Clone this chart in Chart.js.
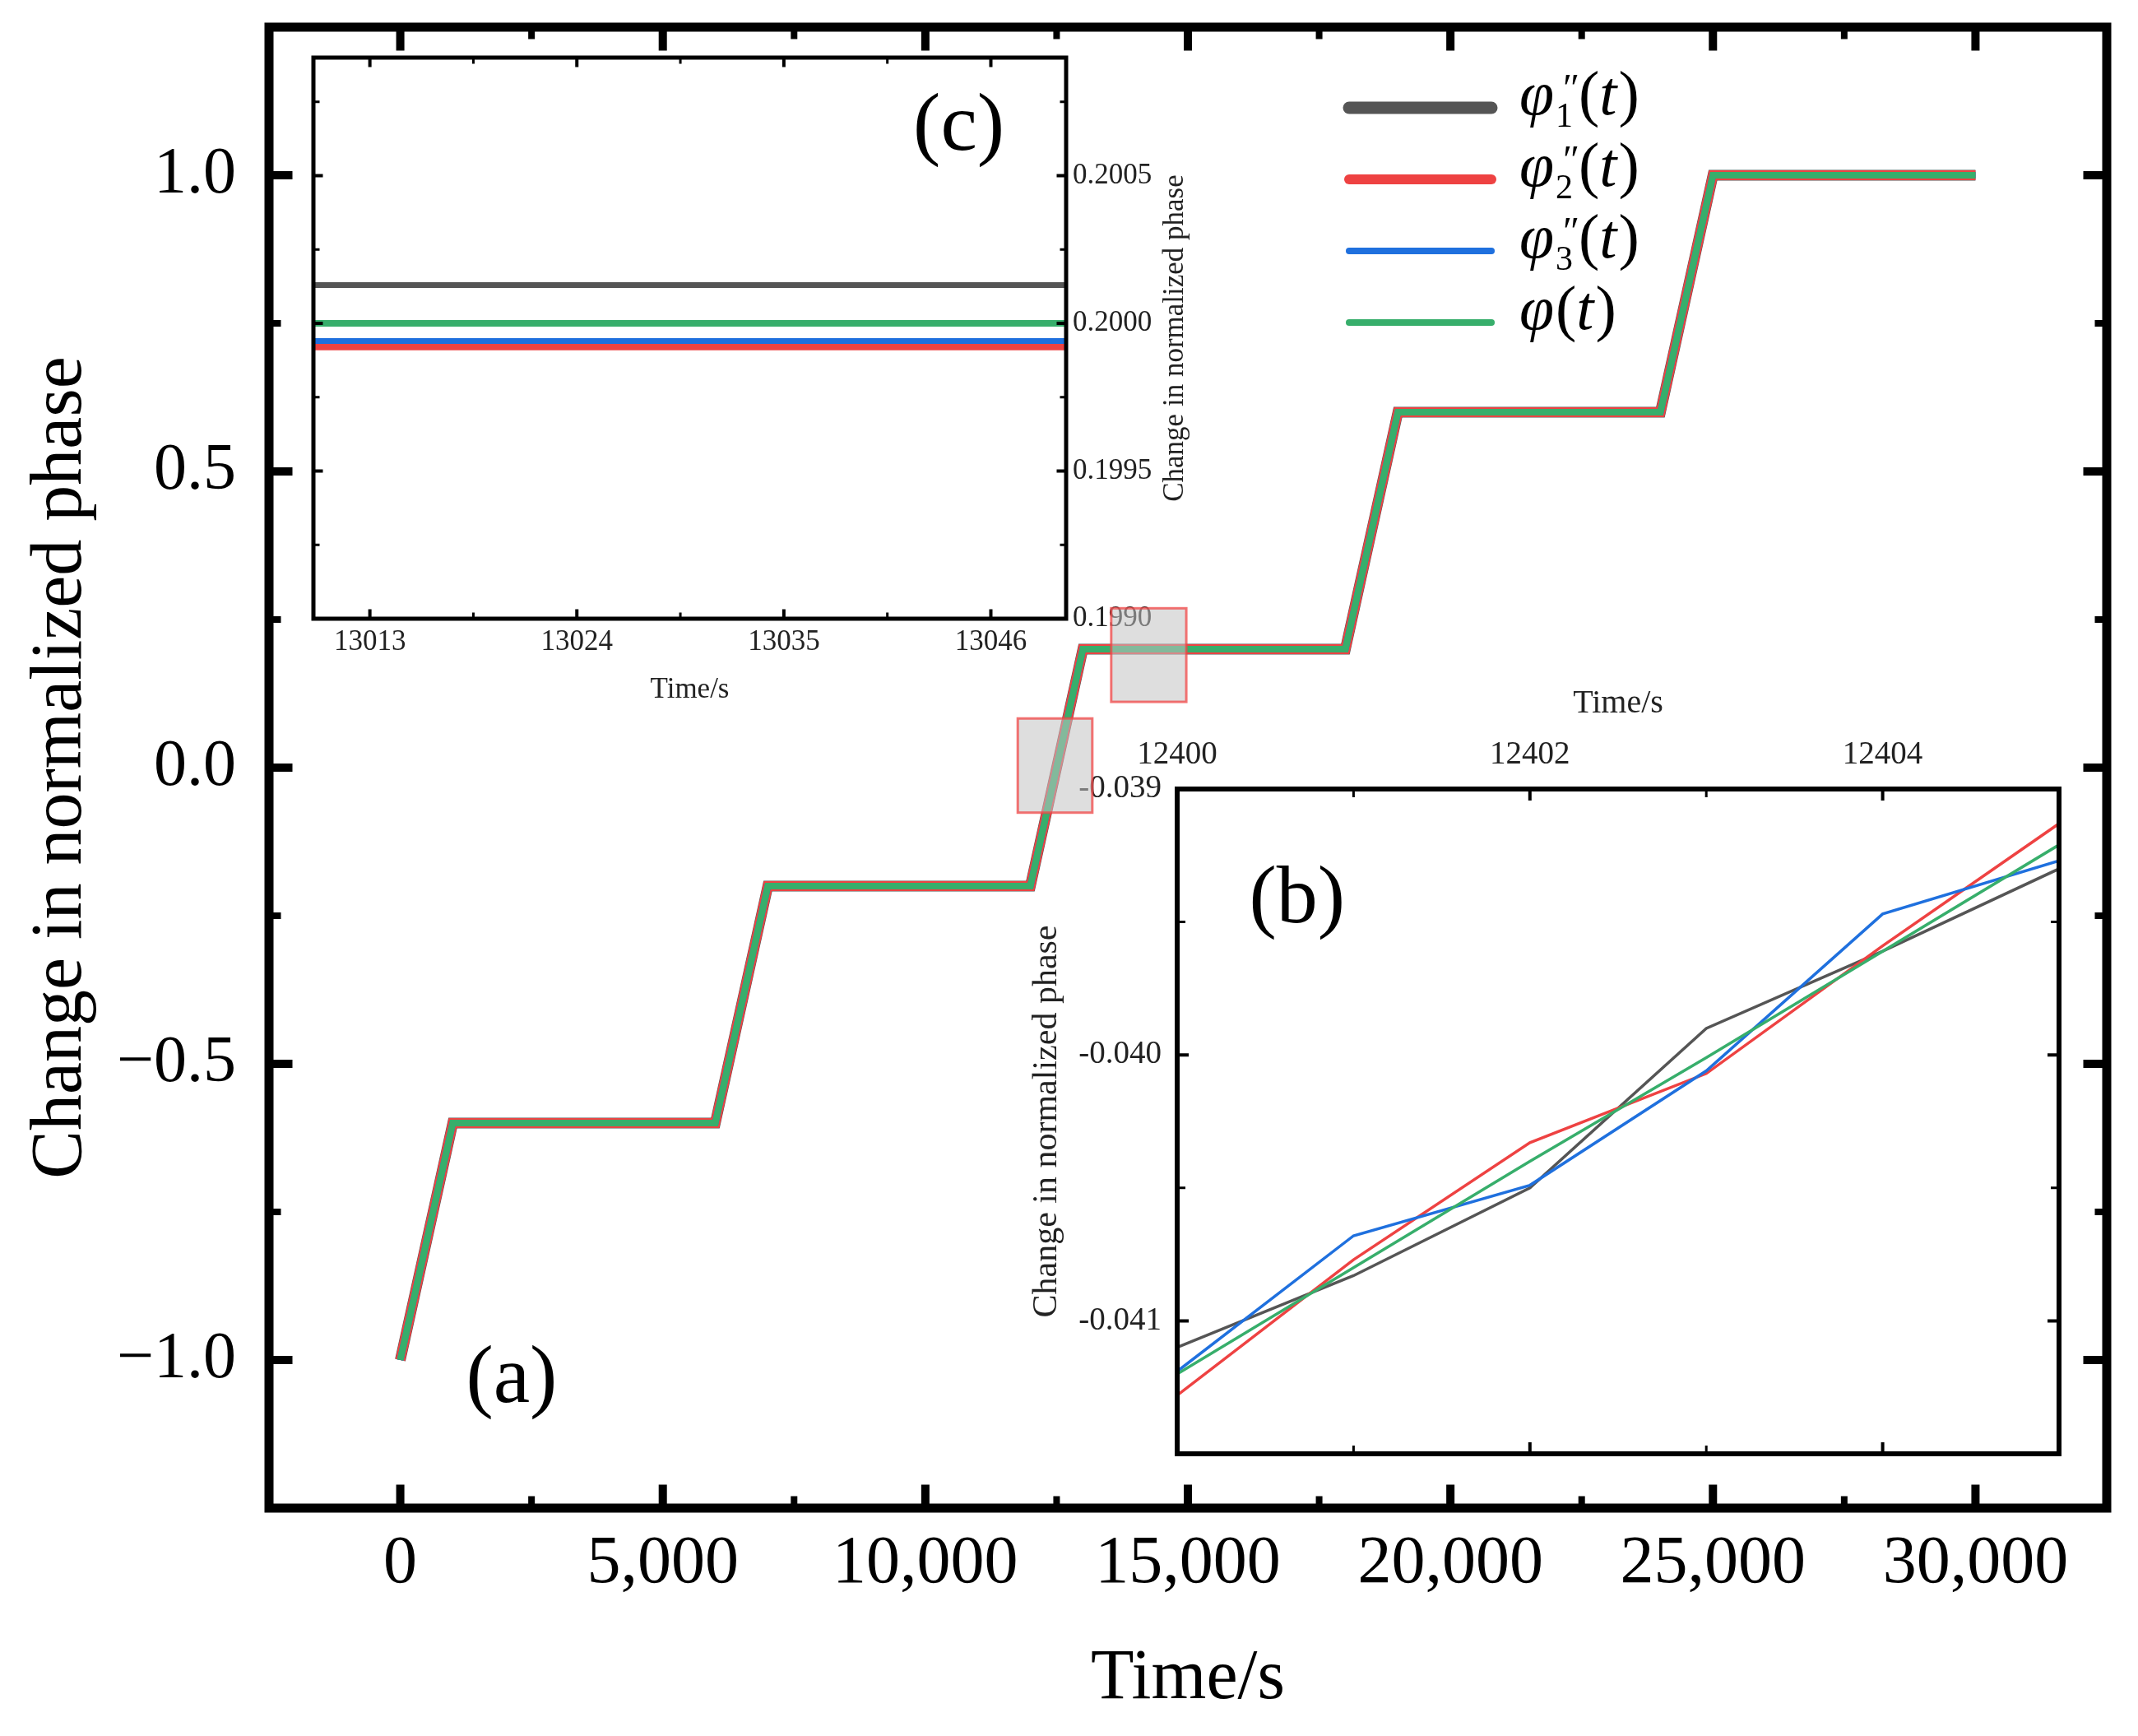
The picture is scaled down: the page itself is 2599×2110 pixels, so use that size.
<!DOCTYPE html>
<html>
<head>
<meta charset="utf-8">
<script src="https://cdn.jsdelivr.net/npm/chart.js@4.4.1/dist/chart.umd.min.js"></script>
<style>
html, body { margin: 0; padding: 0; background: #fff; }
#wrap { position: relative; width: 2599px; height: 2110px; overflow: hidden; }
canvas { position: absolute; }
#mainChart { left: 0; top: 0; z-index: 3; }
#insetC { left: 300px; top: 40px; z-index: 1; }
#insetB { left: 1240px; top: 800px; z-index: 1; }
</style>
</head>
<body>
<div id="wrap">
  <canvas id="insetC" width="1200" height="860"></canvas>
  <canvas id="insetB" width="1300" height="1000"></canvas>
  <canvas id="mainChart" width="2599" height="2110"></canvas>
</div>
<script>
// ---------- data: main panel (a) ----------
const mainTime = [0, 1000, 6000, 7000, 12000, 13000, 18000, 19000, 24000, 25000, 30000];
const mainPhi1 = [-1.0, -0.6, -0.6, -0.2, -0.2, 0.2, 0.2, 0.6, 0.6, 1.0, 1.0];
const mainPhi2 = [-1.0, -0.6, -0.6, -0.2, -0.2, 0.2, 0.2, 0.6, 0.6, 1.0, 1.0];
const mainPhi3 = [-1.0, -0.6, -0.6, -0.2, -0.2, 0.2, 0.2, 0.6, 0.6, 1.0, 1.0];
const mainPhi  = [-1.0, -0.6, -0.6, -0.2, -0.2, 0.2, 0.2, 0.6, 0.6, 1.0, 1.0];
const mainXMajor = [0, 5000, 10000, 15000, 20000, 25000, 30000];
const mainXMinor = [2500, 7500, 12500, 17500, 22500, 27500];
const mainYMajor = [-1.0, -0.5, 0.0, 0.5, 1.0];
const mainYMinor = [-0.75, -0.25, 0.25, 0.75];

// zoom windows marked on panel (a)
const zoomWinT0 = [11760, 13540];
const zoomWinT1 = [13180, 14970];
const zoomWinP0 = [-0.076, 0.111];
const zoomWinP1 = [0.083, 0.269];

// ---------- data: inset (b) ----------
const bTime = [12400, 12401, 12402, 12403, 12404, 12405];
const bPhi1 = [-0.04110, -0.04083, -0.04050, -0.03990, -0.03961, -0.03930];
const bPhi2 = [-0.04128, -0.04077, -0.04033, -0.04007, -0.03959, -0.03913];
const bPhi3 = [-0.04119, -0.04068, -0.04049, -0.04006, -0.03947, -0.03927];
const bPhi  = [-0.04120, -0.04080, -0.04040, -0.04001, -0.03961, -0.03921];
const bXMajor = [12400, 12402, 12404];
const bXMinor = [12401, 12403];
const bYMajor = [-0.041, -0.040, -0.039];
const bYMinor = [-0.0405, -0.0395];

// ---------- data: inset (c) ----------
const cTime = [13010, 13050];
const cPhi1 = [0.20013, 0.20013];
const cPhi2 = [0.19992, 0.19992];
const cPhi3 = [0.19994, 0.19994];
const cPhi  = [0.20000, 0.20000];
const cXMajor = [13013, 13024, 13035, 13046];
const cXMinor = [13018.5, 13029.5, 13040.5];
const cYMajor = [0.1990, 0.1995, 0.2000, 0.2005];
const cYMinor = [0.19925, 0.19975, 0.20025, 0.20075];

const seriesLabels = ['φ1″(t)', 'φ2″(t)', 'φ3″(t)', 'φ(t)'];
const legendSubs = ['1', '2', '3', ''];

// ---------- styling ----------
const FONT = "'Liberation Serif', 'Times New Roman', serif";
const COLORS = ['#555555', '#ee4242', '#1f70de', '#37ae6b'];
const LEGEND_WIDTHS = [15, 12, 8, 8];

// ---------- helpers ----------
function isIn(list, v) { return list.some(m => Math.abs(m - v) < 1e-9); }
function tickList(major, minor) {
  return major.concat(minor).sort((a, b) => a - b).map(v => ({ value: v }));
}
function pts(xs, ys) { return xs.map((x, i) => ({ x: x, y: ys[i] })); }
function lineSets(xs, ysList, widths) {
  return ysList.map((ys, i) => ({
    label: seriesLabels[i], data: pts(xs, ys),
    borderColor: COLORS[i], backgroundColor: COLORS[i], borderWidth: widths[i],
    order: 4 - i, pointRadius: 0, fill: false, tension: 0, borderJoinStyle: 'miter'
  }));
}
// keep the plot box where it is: no extra room for half-labels at the ends
function fixSize(prop, size) {
  return s => {
    s[prop] = size;
    s.paddingTop = 0; s.paddingBottom = 0; s.paddingLeft = 0; s.paddingRight = 0;
  };
}

// inward ticks on all four sides + box frame
function framePlugin(o) {
  return {
    id: 'frame',
    afterDraw(chart) {
      const ctx = chart.ctx, a = chart.chartArea;
      const xs = chart.scales.x, ys = chart.scales.y;
      const h = o.frameW / 2;
      ctx.save();
      ctx.strokeStyle = '#000';
      xs.ticks.forEach(t => {
        const p = xs.getPixelForValue(t.value);
        const major = isIn(o.xMajor, t.value);
        const len = h + (major ? o.majorLen : o.minorLen);
        ctx.lineWidth = major ? o.majorW : o.minorW;
        ctx.beginPath();
        ctx.moveTo(p, a.bottom); ctx.lineTo(p, a.bottom - len);
        ctx.moveTo(p, a.top); ctx.lineTo(p, a.top + len);
        ctx.stroke();
      });
      ys.ticks.forEach(t => {
        const p = ys.getPixelForValue(t.value);
        const major = isIn(o.yMajor, t.value);
        const len = h + (major ? o.majorLen : o.minorLen);
        ctx.lineWidth = major ? o.majorW : o.minorW;
        ctx.beginPath();
        ctx.moveTo(a.left, p); ctx.lineTo(a.left + len, p);
        ctx.moveTo(a.right, p); ctx.lineTo(a.right - len, p);
        ctx.stroke();
      });
      ctx.lineWidth = o.frameW;
      ctx.strokeRect(a.left, a.top, a.right - a.left, a.bottom - a.top);
      ctx.restore();
    }
  };
}

function panelLabel(text, xv, yv, size) {
  return {
    id: 'panelLabel',
    afterDraw(chart) {
      const ctx = chart.ctx;
      ctx.save();
      ctx.font = size + 'px ' + FONT;
      ctx.fillStyle = '#000';
      ctx.textAlign = 'center';
      ctx.textBaseline = 'middle';
      ctx.fillText(text, chart.scales.x.getPixelForValue(xv), chart.scales.y.getPixelForValue(yv));
      ctx.restore();
    }
  };
}

const zoomBoxPlugin = {
  id: 'zoomBoxes',
  afterDraw(chart) {
    const ctx = chart.ctx, xs = chart.scales.x, ys = chart.scales.y;
    ctx.save();
    zoomWinT0.forEach((t0, i) => {
      const xa = xs.getPixelForValue(t0), xb = xs.getPixelForValue(zoomWinT1[i]);
      const ya = ys.getPixelForValue(zoomWinP1[i]), yb = ys.getPixelForValue(zoomWinP0[i]);
      ctx.fillStyle = 'rgba(195,195,195,0.55)';
      ctx.fillRect(xa, ya, xb - xa, yb - ya);
      ctx.strokeStyle = 'rgba(240,70,70,0.75)';
      ctx.lineWidth = 3;
      ctx.strokeRect(xa, ya, xb - xa, yb - ya);
    });
    ctx.restore();
  }
};

const legendPlugin = {
  id: 'phaseLegend',
  afterDraw(chart) {
    const ctx = chart.ctx, a = chart.chartArea;
    const lx0 = a.left + 1313, lx1 = a.left + 1486, tx = a.left + 1520;
    ctx.save();
    chart.data.datasets.forEach((ds, i) => {
      const y = a.top + 98 + i * 87;
      ctx.strokeStyle = ds.borderColor;
      ctx.lineWidth = LEGEND_WIDTHS[i];
      ctx.lineCap = 'round';
      ctx.beginPath(); ctx.moveTo(lx0, y); ctx.lineTo(lx1, y); ctx.stroke();

      ctx.fillStyle = '#000';
      ctx.textBaseline = 'alphabetic';
      ctx.textAlign = 'left';
      const base = y + 8;
      let x = tx;
      ctx.font = 'italic 76px ' + FONT;
      ctx.fillText('φ', x, base);
      x += ctx.measureText('φ').width;
      const sub = legendSubs[i];
      if (sub) {
        ctx.font = '42px ' + FONT;
        ctx.fillText(sub, x + 2, y + 23);
        const ws = ctx.measureText(sub).width;
        ctx.font = 'italic 48px ' + FONT;
        ctx.fillText('″', x + 8, y - 8);
        const wp = ctx.measureText('″').width;
        x = Math.max(x + 2 + ws, x + 8 + wp) + 2;
      } else {
        x += 2;
      }
      ctx.font = '76px ' + FONT;
      ctx.fillText('(', x, base); x += ctx.measureText('(').width;
      ctx.font = 'italic 76px ' + FONT;
      ctx.fillText('t', x, base); x += ctx.measureText('t').width + 2;
      ctx.font = '76px ' + FONT;
      ctx.fillText(')', x, base);
    });
    ctx.restore();
  }
};

const rightTitlePlugin = {
  id: 'rightTitle',
  afterDraw(chart) {
    const ctx = chart.ctx, a = chart.chartArea;
    ctx.save();
    ctx.translate(a.right + 133, (a.top + a.bottom) / 2);
    ctx.rotate(-Math.PI / 2);
    ctx.font = '35px ' + FONT;
    ctx.fillStyle = '#222';
    ctx.textAlign = 'center';
    ctx.textBaseline = 'middle';
    ctx.fillText('Change in normalized phase', 0, 0);
    ctx.restore();
  }
};

Chart.defaults.font.family = FONT;

function baseOptions(padding) {
  return {
    responsive: false, animation: false, devicePixelRatio: 1,
    layout: { padding: padding },
    plugins: { legend: { display: false }, tooltip: { enabled: false } },
    elements: { line: { borderCapStyle: 'butt' } }
  };
}

// ---------- panel (a) ----------
const mainOpts = baseOptions({ left: 0, top: 33, right: 38, bottom: 0 });
mainOpts.scales = {
  x: {
    type: 'linear', position: 'bottom', min: -2500, max: 32500,
    afterBuildTicks: s => { s.ticks = tickList(mainXMajor, mainXMinor); },
    afterFit: fixSize('height', 277),
    grid: { display: false, drawTicks: false }, border: { display: false },
    ticks: {
      autoSkip: false, maxRotation: 0, padding: 19, color: '#000', font: { size: 82 },
      callback: v => isIn(mainXMajor, v) ? v.toLocaleString('en-US') : ''
    },
    title: { display: true, text: 'Time/s', color: '#000', font: { size: 86 }, padding: { top: 0, bottom: 17 } }
  },
  y: {
    type: 'linear', position: 'left', min: -1.25, max: 1.25,
    afterBuildTicks: s => { s.ticks = tickList(mainYMajor, mainYMinor); },
    afterFit: fixSize('width', 327),
    grid: { display: false, drawTicks: false }, border: { display: false },
    ticks: {
      autoSkip: false, padding: 40, color: '#000', font: { size: 80 },
      callback: v => isIn(mainYMajor, v) ? (v < 0 ? '\u2212' + Math.abs(v).toFixed(1) : v.toFixed(1)) : ''
    },
    title: { display: true, text: 'Change in normalized phase', color: '#000', font: { size: 88 }, padding: { top: 22, bottom: 0 } }
  }
};
new Chart(document.getElementById('mainChart'), {
  type: 'line',
  data: { datasets: lineSets(mainTime, [mainPhi1, mainPhi2, mainPhi3, mainPhi], [13, 12, 8, 8]) },
  options: mainOpts,
  plugins: [
    framePlugin({ xMajor: mainXMajor, yMajor: mainYMajor, frameW: 11, majorLen: 23, minorLen: 9, majorW: 10, minorW: 8 }),
    panelLabel('(a)', 2120, -1.035, 100),
    legendPlugin,
    zoomBoxPlugin
  ]
});

// ---------- inset (c) ----------
const cOpts = baseOptions({ left: 81, top: 30, right: 0, bottom: 0 });
cOpts.scales = {
  x: {
    type: 'linear', position: 'bottom', min: 13010, max: 13050,
    afterBuildTicks: s => { s.ticks = tickList(cXMajor, cXMinor); },
    afterFit: fixSize('height', 148),
    grid: { display: false, drawTicks: false }, border: { display: false },
    ticks: {
      autoSkip: false, maxRotation: 0, padding: 8, color: '#222', font: { size: 35 },
      callback: v => isIn(cXMajor, v) ? String(v) : ''
    },
    title: { display: true, text: 'Time/s', color: '#222', font: { size: 35 }, padding: { top: 0, bottom: 40 } }
  },
  y: {
    type: 'linear', position: 'right', min: 0.1990, max: 0.2009,
    afterBuildTicks: s => { s.ticks = tickList(cYMajor, cYMinor); },
    afterFit: fixSize('width', 204),
    grid: { display: false, drawTicks: false }, border: { display: false },
    ticks: {
      autoSkip: false, padding: 8, color: '#222', font: { size: 35 },
      callback: v => isIn(cYMajor, v) ? v.toFixed(4) : ''
    }
  }
};
new Chart(document.getElementById('insetC'), {
  type: 'line',
  data: { datasets: lineSets(cTime, [cPhi1, cPhi2, cPhi3, cPhi], [7, 8, 7, 8]) },
  options: cOpts,
  plugins: [
    framePlugin({ xMajor: cXMajor, yMajor: cYMajor, frameW: 5, majorLen: 9, minorLen: 5, majorW: 4, minorW: 3 }),
    panelLabel('(c)', 13044.3, 0.20066, 100),
    rightTitlePlugin
  ]
});

// ---------- inset (b) ----------
const bOpts = baseOptions({ left: 0, top: 0, right: 37, bottom: 33 });
bOpts.scales = {
  x: {
    type: 'linear', position: 'top', min: 12400, max: 12405,
    afterBuildTicks: s => { s.ticks = tickList(bXMajor, bXMinor); },
    afterFit: fixSize('height', 159),
    grid: { display: false, drawTicks: false }, border: { display: false },
    ticks: {
      autoSkip: false, maxRotation: 0, padding: 18, color: '#222', font: { size: 39 },
      callback: v => isIn(bXMajor, v) ? String(v) : ''
    },
    title: { display: true, text: 'Time/s', color: '#222', font: { size: 40 }, padding: { top: 31, bottom: 0 } }
  },
  y: {
    type: 'linear', position: 'left', min: -0.0415, max: -0.039,
    afterBuildTicks: s => { s.ticks = tickList(bYMajor, bYMinor); },
    afterFit: fixSize('width', 191),
    grid: { display: false, drawTicks: false }, border: { display: false },
    ticks: {
      autoSkip: false, padding: 19, color: '#222', font: { size: 39 },
      callback: v => isIn(bYMajor, v) ? v.toFixed(3) : ''
    },
    title: { display: true, text: 'Change in normalized phase', color: '#222', font: { size: 42 }, padding: { top: 8, bottom: 0 } }
  }
};
new Chart(document.getElementById('insetB'), {
  type: 'line',
  data: { datasets: lineSets(bTime, [bPhi1, bPhi2, bPhi3, bPhi], [3.5, 3.5, 3.5, 3.5]) },
  options: bOpts,
  plugins: [
    framePlugin({ xMajor: bXMajor, yMajor: bYMajor, frameW: 6, majorLen: 11, minorLen: 7, majorW: 4, minorW: 3 }),
    panelLabel('(b)', 12400.68, -0.03942, 100)
  ]
});
</script>
</body>
</html>
